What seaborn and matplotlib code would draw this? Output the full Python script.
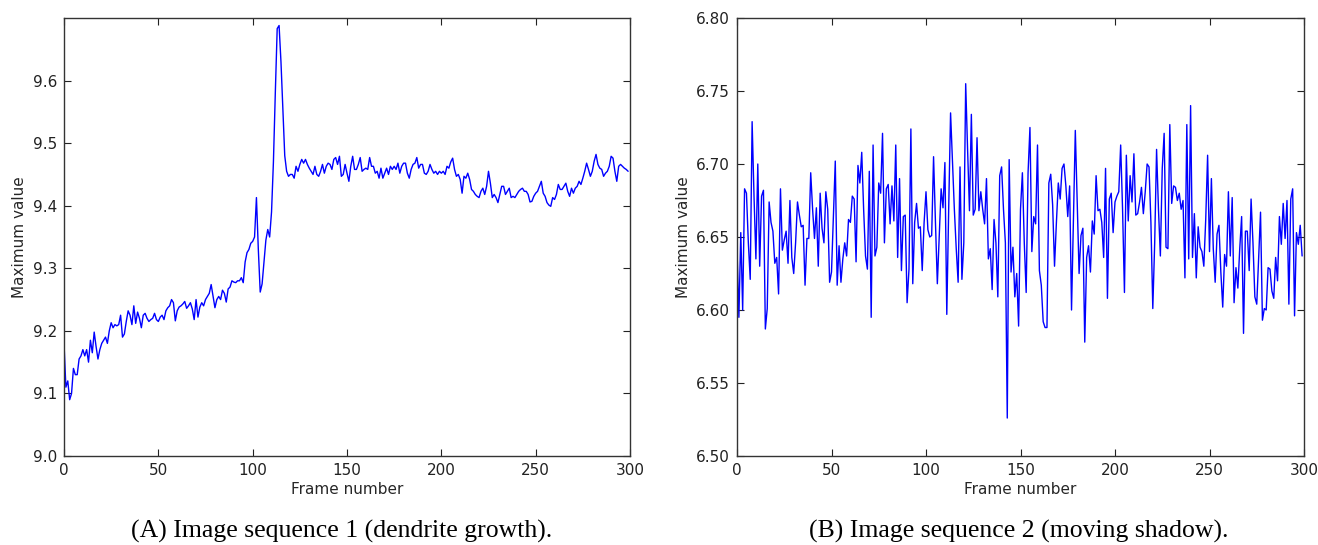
import numpy as np
import pandas as pd
import matplotlib
matplotlib.use("Agg")
import matplotlib.pyplot as plt
import seaborn as sns

# Maximum value per frame (frames 0..299)
seq1_values = [
    9.180, 9.110, 9.120, 9.090, 9.100, 9.140, 9.130, 9.130, 9.155, 9.160,
    9.170, 9.160, 9.170, 9.150, 9.185, 9.165, 9.198, 9.175, 9.155, 9.170,
    9.180, 9.185, 9.190, 9.180, 9.200, 9.213, 9.205, 9.210, 9.208, 9.210,
    9.225, 9.190, 9.195, 9.215, 9.232, 9.225, 9.210, 9.240, 9.212, 9.230,
    9.220, 9.205, 9.225, 9.228, 9.220, 9.215, 9.218, 9.220, 9.228, 9.218,
    9.215, 9.222, 9.225, 9.218, 9.232, 9.237, 9.240, 9.250, 9.245, 9.216,
    9.232, 9.238, 9.240, 9.243, 9.247, 9.236, 9.240, 9.245, 9.235, 9.218,
    9.250, 9.222, 9.238, 9.245, 9.240, 9.250, 9.255, 9.260, 9.274, 9.255,
    9.237, 9.250, 9.255, 9.250, 9.265, 9.260, 9.246, 9.267, 9.270, 9.280,
    9.278, 9.277, 9.280, 9.280, 9.285, 9.277, 9.310, 9.325, 9.330, 9.340,
    9.343, 9.350, 9.413, 9.330, 9.262, 9.275, 9.310, 9.345, 9.362, 9.350,
    9.390, 9.470, 9.580, 9.683, 9.688, 9.630, 9.555, 9.480, 9.455, 9.447,
    9.450, 9.450, 9.444, 9.463, 9.455, 9.466, 9.474, 9.468, 9.474, 9.466,
    9.460, 9.455, 9.450, 9.463, 9.450, 9.447, 9.455, 9.466, 9.452, 9.463,
    9.468, 9.466, 9.458, 9.474, 9.477, 9.466, 9.479, 9.447, 9.450, 9.466,
    9.452, 9.439, 9.463, 9.479, 9.458, 9.458, 9.466, 9.477, 9.455, 9.458,
    9.460, 9.458, 9.477, 9.463, 9.463, 9.452, 9.455, 9.444, 9.460, 9.444,
    9.452, 9.460, 9.450, 9.463, 9.458, 9.463, 9.458, 9.468, 9.452, 9.463,
    9.468, 9.468, 9.452, 9.444, 9.458, 9.466, 9.468, 9.477, 9.460, 9.466,
    9.466, 9.452, 9.450, 9.455, 9.466, 9.458, 9.452, 9.455, 9.450, 9.455,
    9.452, 9.455, 9.450, 9.463, 9.460, 9.470, 9.476, 9.458, 9.447, 9.450,
    9.442, 9.420, 9.447, 9.444, 9.452, 9.442, 9.426, 9.423, 9.418, 9.415,
    9.413, 9.423, 9.428, 9.418, 9.431, 9.455, 9.436, 9.413, 9.418, 9.413,
    9.405, 9.418, 9.431, 9.431, 9.418, 9.423, 9.428, 9.413, 9.415, 9.413,
    9.418, 9.423, 9.426, 9.428, 9.423, 9.423, 9.418, 9.406, 9.407, 9.415,
    9.420, 9.423, 9.431, 9.439, 9.420, 9.415, 9.405, 9.401, 9.399, 9.413,
    9.410, 9.418, 9.434, 9.426, 9.426, 9.431, 9.436, 9.423, 9.415, 9.428,
    9.420, 9.428, 9.431, 9.439, 9.434, 9.444, 9.455, 9.468, 9.458, 9.447,
    9.455, 9.471, 9.482, 9.466, 9.460, 9.458, 9.447, 9.452, 9.455, 9.463,
    9.479, 9.476, 9.455, 9.439, 9.463, 9.466, 9.463, 9.460, 9.458, 9.455,
]

seq2_values = [
    6.642, 6.595, 6.653, 6.600, 6.683, 6.680, 6.646, 6.621, 6.729, 6.678,
    6.635, 6.700, 6.630, 6.678, 6.682, 6.587, 6.601, 6.674, 6.660, 6.654,
    6.632, 6.636, 6.611, 6.683, 6.641, 6.648, 6.654, 6.632, 6.675, 6.636,
    6.625, 6.646, 6.674, 6.665, 6.657, 6.658, 6.617, 6.649, 6.649, 6.694,
    6.669, 6.649, 6.670, 6.630, 6.680, 6.656, 6.646, 6.681, 6.669, 6.619,
    6.626, 6.665, 6.702, 6.617, 6.644, 6.619, 6.635, 6.646, 6.637, 6.662,
    6.660, 6.678, 6.676, 6.633, 6.699, 6.687, 6.708, 6.669, 6.637, 6.628,
    6.695, 6.595, 6.713, 6.637, 6.643, 6.687, 6.680, 6.721, 6.646, 6.683,
    6.686, 6.659, 6.685, 6.661, 6.713, 6.636, 6.690, 6.627, 6.664, 6.665,
    6.605, 6.628, 6.724, 6.618, 6.660, 6.673, 6.656, 6.657, 6.627, 6.660,
    6.681, 6.655, 6.650, 6.651, 6.705, 6.660, 6.618, 6.651, 6.683, 6.670,
    6.701, 6.597, 6.669, 6.735, 6.701, 6.669, 6.642, 6.619, 6.698, 6.621,
    6.646, 6.755, 6.710, 6.668, 6.734, 6.665, 6.669, 6.718, 6.668, 6.681,
    6.669, 6.659, 6.690, 6.635, 6.642, 6.614, 6.662, 6.646, 6.609, 6.692,
    6.698, 6.669, 6.646, 6.526, 6.703, 6.626, 6.643, 6.609, 6.625, 6.589,
    6.669, 6.694, 6.646, 6.612, 6.694, 6.725, 6.640, 6.664, 6.659, 6.713,
    6.627, 6.617, 6.592, 6.588, 6.588, 6.687, 6.693, 6.672, 6.630, 6.660,
    6.687, 6.676, 6.697, 6.700, 6.685, 6.664, 6.685, 6.600, 6.660, 6.723,
    6.675, 6.625, 6.651, 6.656, 6.578, 6.636, 6.644, 6.626, 6.661, 6.652,
    6.692, 6.668, 6.669, 6.660, 6.636, 6.697, 6.608, 6.676, 6.680, 6.653,
    6.674, 6.678, 6.681, 6.713, 6.669, 6.612, 6.706, 6.661, 6.692, 6.674,
    6.707, 6.665, 6.666, 6.674, 6.684, 6.666, 6.681, 6.700, 6.698, 6.660,
    6.601, 6.646, 6.710, 6.669, 6.637, 6.697, 6.721, 6.643, 6.642, 6.727,
    6.673, 6.685, 6.684, 6.675, 6.680, 6.669, 6.675, 6.622, 6.727, 6.635,
    6.740, 6.636, 6.666, 6.622, 6.657, 6.643, 6.640, 6.630, 6.662, 6.706,
    6.640, 6.690, 6.642, 6.619, 6.652, 6.658, 6.626, 6.602, 6.638, 6.630,
    6.681, 6.637, 6.677, 6.605, 6.629, 6.615, 6.642, 6.664, 6.584, 6.654,
    6.654, 6.627, 6.676, 6.646, 6.609, 6.604, 6.636, 6.667, 6.593, 6.601,
    6.600, 6.629, 6.628, 6.613, 6.608, 6.636, 6.620, 6.664, 6.645, 6.673,
    6.649, 6.675, 6.604, 6.676, 6.683, 6.596, 6.653, 6.645, 6.658, 6.637,
]

frames = np.arange(len(seq1_values))

seq1_ticks = [9.0, 9.1, 9.2, 9.3, 9.4, 9.5, 9.6]
seq2_ticks = [6.50, 6.55, 6.60, 6.65, 6.70, 6.75, 6.80]
x_ticks = [0, 50, 100, 150, 200, 250, 300]

captions = ["(A) Image sequence 1 (dendrite growth).",
            "(B) Image sequence 2 (moving shadow)."]

df = pd.DataFrame({"frame": frames, "seq1": seq1_values, "seq2": seq2_values})

sns.set_style("ticks")
plt.rcParams["font.family"] = ["DejaVu Sans"]

fig = plt.figure(figsize=(13.18, 5.45), dpi=100)
ax1 = fig.add_axes([64 / 1318, 1 - 456 / 545, 566 / 1318, 438 / 545])
ax2 = fig.add_axes([737 / 1318, 1 - 456 / 545, 567 / 1318, 438 / 545])

sns.lineplot(data=df, x="frame", y="seq1", ax=ax1, color="blue", lw=1)
sns.lineplot(data=df, x="frame", y="seq2", ax=ax2, color="blue", lw=1)

ax1.set_ylim(9.0, 9.7)
ax1.set_yticks(seq1_ticks)
ax1.set_yticklabels([f"{v:.1f}" for v in seq1_ticks])
ax2.set_ylim(6.50, 6.80)
ax2.set_yticks(seq2_ticks)
ax2.set_yticklabels([f"{v:.2f}" for v in seq2_ticks])

for ax in (ax1, ax2):
    ax.set_xlim(0, 300)
    ax.set_xticks(x_ticks)
    ax.set_xlabel("Frame number", fontsize=11, labelpad=3)
    ax.set_ylabel("Maximum value", fontsize=11, labelpad=4)
    ax.tick_params(direction="in", top=True, right=True, length=5,
                   width=0.8, labelsize=11, pad=5, colors="#222222")
    for sp in ax.spines.values():
        sp.set_visible(True)
        sp.set_color("#333333")
        sp.set_linewidth(1.0)
    ax.grid(False)

fig.text(342 / 1318, 1 - 531 / 545, captions[0], ha="center", va="center",
         fontsize=18.5, color="black", family=["Liberation Serif"])
fig.text(1019 / 1318, 1 - 531 / 545, captions[1], ha="center", va="center",
         fontsize=18.5, color="black", family=["Liberation Serif"])

fig.savefig("out.png", dpi=100)
